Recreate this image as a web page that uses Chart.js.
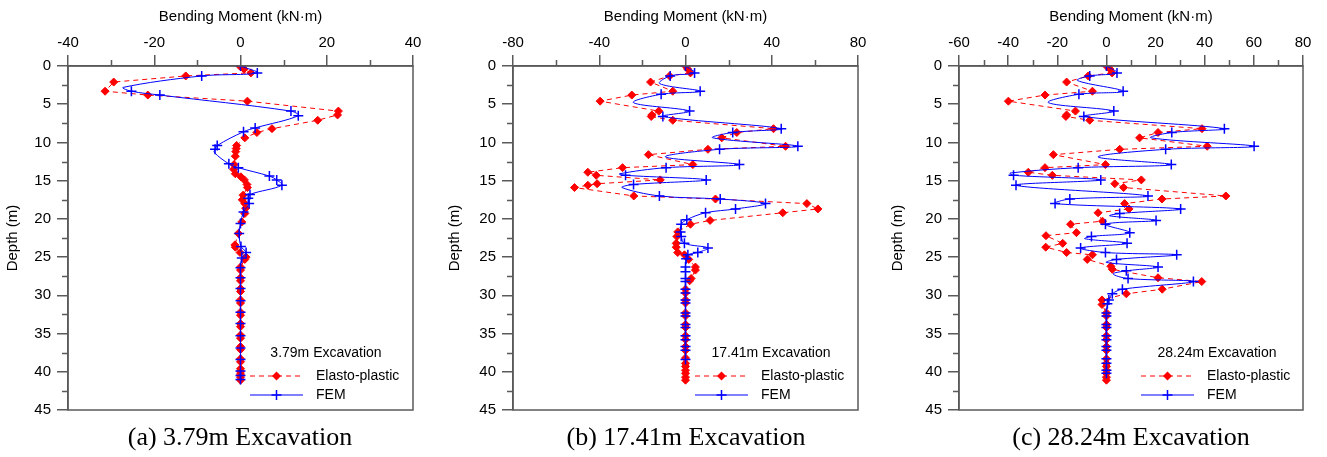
<!DOCTYPE html>
<html>
<head>
<meta charset="utf-8">
<script src="https://cdn.jsdelivr.net/npm/chart.js@4.4.1/dist/chart.umd.min.js"></script>
<style>
  html, body { margin:0; padding:0; background:#fff; }
  #wrap { position:relative; width:1327px; height:457px; background:#fff; overflow:hidden; }
  .pane { position:absolute; top:0; height:457px; }
  .cap { position:absolute; top:422px; width:360px; text-align:center;
         font-family:"Liberation Serif","Times New Roman",serif; font-size:26px; line-height:30px; color:#000; }
</style>
</head>
<body>
<div id="wrap">
  <div class="pane" style="left:0;width:442px"><canvas id="ca" width="442" height="457"></canvas></div>
  <div class="pane" style="left:442px;width:443px"><canvas id="cb" width="443" height="457"></canvas></div>
  <div class="pane" style="left:885px;width:442px"><canvas id="cc" width="442" height="457"></canvas></div>
  <div class="cap" style="left:60px">(a) 3.79m Excavation</div>
  <div class="cap" style="left:506px">(b) 17.41m Excavation</div>
  <div class="cap" style="left:951px">(c) 28.24m Excavation</div>
</div>
<script>
// ---------- data: depth (m) and bending moment (kN·m) ----------
const seriesNames = ['Elasto-plastic', 'FEM'];
const xAxisTitle = 'Bending Moment (kN·m)';
const yAxisTitle = 'Depth (m)';
const depthTicks = [0, 5, 10, 15, 20, 25, 30, 35, 40, 45];

// (a) 3.79 m excavation
const aLabel = '3.79m Excavation';
const aMomentTicks = [-40, -20, 0, 20, 40];
const aEpDepth  = [0.0,0.4,0.9,1.3,2.1,3.3,3.8,4.6,5.9,6.4,7.1,8.2,8.7,9.4,10.4,10.8,11.2,11.8,12.9,13.5,14.1,14.5,14.9,15.5,15.9,16.9,17.5,18.0,18.6,19.3,20.4,21.9,23.4,23.7,24.4,25.0,25.3,26.3,26.7,27.7,28.1,29.1,29.5,30.6,31.0,32.2,32.6,33.7,34.1,35.2,35.6,36.7,37.1,38.3,38.7,39.6,40.0,40.3,40.7,41.1];
const aEpMoment = [-0.2,0.8,2.4,-12.7,-29.4,-31.4,-21.5,1.6,22.7,22.5,17.9,7.3,3.8,1.0,-0.9,-1.0,-1.1,-1.2,-1.5,-1.6,-1.2,0.1,0.9,1.5,1.6,0.6,0.4,1.0,1.2,1.0,0.3,-0.5,-1.3,-1.2,-0.1,1.3,1.0,0,0,0,0,0,0,0,0,0,0,0,0,0,0,0,0,0,0,0,0,0,0,0,0];
const aFemDepth  = [0,0.9,1.3,3.3,3.8,5.9,6.5,8.1,8.6,10.4,10.9,12.8,13.3,14.4,14.9,15.6,16.8,17.3,18.0,19.1,20.6,21.9,23.6,24.4,25.1,26.4,27.7,29.1,30.7,32.2,33.7,35.3,36.9,38.4,39.9,40.5,41.0];
const aFemMoment = [0,3.9,-9.0,-25.3,-18.7,11.7,13.4,3.4,0.7,-5.4,-5.9,-2.7,-0.5,6.7,8.4,9.6,2.2,1.8,2.0,0.7,0.0,-0.3,0.1,1.3,0.3,0,0,0,0,0,0,0,0,0,0,0,0];
const aFemBendDepth  = [2.8, 11.3];
const aFemBendMoment = [-27.2, -6.1];

// (b) 17.41 m excavation
const bLabel = '17.41m Excavation';
const bMomentTicks = [-80, -40, 0, 40, 80];
const bEpDepth  = [0,0.4,0.9,1.3,2.1,3.3,3.8,4.6,5.9,6.4,6.6,7.1,8.2,8.7,9.4,10.5,10.9,11.6,12.9,13.3,13.9,14.3,14.9,15.4,15.6,15.9,17.0,17.4,18.0,18.7,19.2,20.2,20.7,21.7,22.3,23.2,23.7,24.4,24.7,25.3,26.3,26.7,27.8,28.1,29.2,29.7,30.6,31.0,32.3,32.7,33.8,34.2,35.3,35.8,36.7,37.2,38.2,38.9,39.3,39.8,40.2,40.7,41.1];
const bEpMoment = [0,1.0,2.3,-7.4,-16.2,-5.9,-24.9,-39.6,-12.4,-15.6,-15.9,-5.9,40.8,23.8,16.8,46.4,10.4,-17.2,3.4,-29.2,-45.3,-41.4,-11.7,-41.0,-45.3,-51.5,-24.0,13.9,56.3,61.4,45.1,11.4,2.3,-3.6,-4.0,-4.3,-4.3,-3.6,-0.5,1.5,4.6,4.6,2.6,1.9,0,0,0,0,0,0,0,0,0,0,0,0,0,0,0,0,0,0,0];
const bFemDepth  = [0,0.9,1.3,3.3,3.7,5.9,6.6,8.2,8.7,10.5,10.9,12.9,13.3,14.3,14.9,15.5,17.0,17.4,18.0,18.7,19.2,20.1,20.7,21.7,22.3,23.2,23.8,24.4,24.7,25.2,26.3,26.9,27.8,28.2,29.2,29.7,30.6,31.0,32.3,32.7,33.8,34.2,35.3,35.8,36.7,37.2,38.4];
const bFemMoment = [0,4.2,-7.1,6.8,-11.3,1.9,-10.5,44.4,21.9,52.1,15.8,25.0,-9.0,-27.8,9.6,-24.1,-12.1,16.1,37.1,23.2,9.3,0.6,-2.0,-2.3,-2.0,-0.5,10.4,5.7,1.1,0.3,0,0,0,0,0,0,0,0,0,0,0,0,0,0,0,0,0];
const bFemBendDepth  = [2.3,4.8,9.4,11.9,14.1,15.9];
const bFemBendMoment = [-12.0,-24.1,12.7,-9.3,-30.6,-29.4];

// (c) 28.24 m excavation
const cLabel = '28.24m Excavation';
const cMomentTicks = [-60, -40, -20, 0, 20, 40, 60, 80];
const cEpDepth  = [0,0.4,0.9,1.3,2.1,3.3,3.8,4.6,5.9,6.4,6.6,7.1,8.2,8.7,9.4,10.5,10.9,11.6,12.9,13.3,13.9,14.3,14.9,15.4,15.9,17.0,17.4,18.0,18.7,19.2,20.3,20.7,21.8,22.2,23.2,23.7,24.4,24.7,25.3,26.2,26.6,27.7,28.2,29.2,29.8,30.6,31.2,32.3,32.7,33.8,34.2,35.3,35.8,36.7,37.2,38.3,38.9,39.3,39.8,40.2,40.7,41.1];
const cEpMoment = [0,1.4,2.3,-7.4,-16.2,-5.7,-25.0,-39.9,-12.6,-16.2,-16.5,-6.8,38.9,21.0,13.5,41.0,5.4,-21.6,-0.4,-25.0,-31.8,-22.0,14.2,3.4,7.0,48.6,22.6,7.4,9.2,-3.4,-1.6,-14.6,-12.2,-24.6,-17.8,-24.7,-16.2,-5.7,-7.8,1.8,2.4,21.0,38.8,22.7,8.1,-1.8,-1.8,0,0,0,0,0,0,0,0,0,0,0,0,0,0,0];
const cFemDepth  = [0,0.9,1.3,3.3,3.7,5.9,6.6,8.2,8.7,10.5,10.9,12.9,13.3,14.3,14.9,15.6,17.0,17.4,18.0,18.7,19.3,20.2,20.7,21.8,22.3,23.2,23.8,24.4,24.7,25.3,26.3,26.8,27.8,28.2,29.2,29.8,30.6,31.1,32.3,32.7,33.8,34.2,35.3,35.8,36.7,37.2,38.3,38.9,39.8,40.2];
const cFemMoment = [0,4.3,-6.8,6.8,-11.2,3.0,-9.2,48.0,26.6,60.1,24.1,26.4,-11.5,-37.8,-2.3,-36.8,16.9,-14.9,-20.9,30.2,5.4,20.2,-0.4,9.5,-6.1,8.4,-10.5,-0.4,28.6,4.1,21.0,8.1,8.8,35.4,6.5,2.4,1.0,0.4,0,0,0,0,0,0,0,0,0,0,0,0];
const cFemBendDepth  = [1.9,4.8,9.4,11.9,14.0,19.6,22.6,25.7,27.2];
const cFemBendMoment = [-11.8,-23.6,18.2,-3.4,-39.2,1.4,-8.8,0.0,2.7];

// ---------- styling ----------
const FONT = 'Arial, "Liberation Sans", sans-serif';
const AXIS = '#5a5a5a';
const RED = '#ff0000';
const BLUE = '#0000ff';

function zip(depths, moments) {
  return depths.map((d, i) => ({ x: moments[i], y: d }));
}

const minorTicksPlugin = {
  id: 'minorTicks',
  afterDraw(chart) {
    const { ctx, chartArea: a, scales: { x, y } } = chart;
    ctx.save();
    ctx.strokeStyle = AXIS;
    ctx.lineWidth = 1.5;
    ctx.strokeRect(a.left, a.top, a.right - a.left, a.bottom - a.top);
    const xt = x.ticks.map(t => t.value);
    ctx.beginPath();
    for (let i = 0; i < xt.length - 1; i++) {
      const px = Math.round(x.getPixelForValue((xt[i] + xt[i + 1]) / 2)) + 0.5;
      ctx.moveTo(px, a.top); ctx.lineTo(px, a.top - 6);
    }
    const yt = y.ticks.map(t => t.value);
    for (let i = 0; i < yt.length - 1; i++) {
      const py = Math.round(y.getPixelForValue((yt[i] + yt[i + 1]) / 2)) + 0.5;
      ctx.moveTo(a.left, py); ctx.lineTo(a.left - 6, py);
    }
    ctx.stroke();
    ctx.restore();
  }
};

const insideLegendPlugin = {
  id: 'insideLegend',
  afterDraw(chart, args, opts) {
    const { ctx, chartArea: a } = chart;
    ctx.save();
    ctx.fillStyle = '#000';
    ctx.textBaseline = 'middle';
    ctx.font = '14px ' + FONT;
    ctx.textAlign = 'center';
    ctx.fillText(opts.title, a.left + 258, a.top + 287);
    ctx.textAlign = 'left';
    const x0 = a.left + 182, x1 = a.left + 235, xm = (x0 + x1) / 2;
    // Elasto-plastic entry
    let yy = a.top + 310;
    ctx.strokeStyle = RED; ctx.lineWidth = 1; ctx.setLineDash([5, 4]);
    ctx.beginPath(); ctx.moveTo(x0, yy); ctx.lineTo(x1, yy); ctx.stroke();
    ctx.setLineDash([]);
    ctx.fillStyle = RED;
    ctx.beginPath(); ctx.moveTo(xm, yy - 4.5); ctx.lineTo(xm + 4.5, yy); ctx.lineTo(xm, yy + 4.5); ctx.lineTo(xm - 4.5, yy); ctx.closePath(); ctx.fill();
    ctx.fillStyle = '#000';
    ctx.fillText(seriesNames[0], a.left + 248, yy);
    // FEM entry
    yy = a.top + 329;
    ctx.strokeStyle = BLUE; ctx.lineWidth = 1;
    ctx.beginPath(); ctx.moveTo(x0, yy); ctx.lineTo(x1, yy); ctx.stroke();
    ctx.lineWidth = 1.5;
    ctx.beginPath(); ctx.moveTo(xm - 5, yy); ctx.lineTo(xm + 5, yy); ctx.moveTo(xm, yy - 5); ctx.lineTo(xm, yy + 5); ctx.stroke();
    ctx.fillStyle = '#000';
    ctx.fillText(seriesNames[1], a.left + 248, yy);
    ctx.restore();
  }
};

function makePanel(id, p) {
  const femMarkers = zip(p.femDepth, p.femMoment);
  const femCurve = femMarkers.concat(zip(p.bendDepth, p.bendMoment)).sort((u, v) => u.y - v.y);
  const tickFont = { family: FONT, size: 15 };
  new Chart(document.getElementById(id), {
    type: 'scatter',
    data: {
      datasets: [
        { label: seriesNames[1], data: femMarkers, showLine: false, pointStyle: 'cross',
          pointRadius: 5, pointBorderWidth: 1.5, borderColor: BLUE, backgroundColor: BLUE },
        { label: seriesNames[1] + ' curve', data: femCurve, showLine: true, pointRadius: 0,
          borderColor: BLUE, borderWidth: 1, tension: 0.35 },
        { label: seriesNames[0], data: zip(p.epDepth, p.epMoment), showLine: true,
          borderColor: RED, backgroundColor: RED, borderWidth: 1, borderDash: [5, 4],
          pointStyle: 'rectRot', pointRadius: 4, pointBorderWidth: 1, tension: 0 }
      ]
    },
    options: {
      responsive: false,
      animation: false,
      layout: { padding: { left: 0, right: p.rightPad, top: 0, bottom: 47 } },
      plugins: { legend: { display: false }, tooltip: { enabled: false },
                 insideLegend: { title: p.label } },
      scales: {
        x: {
          type: 'linear', position: 'top',
          min: p.ticks[0], max: p.ticks[p.ticks.length - 1],
          afterBuildTicks: s => { s.ticks = p.ticks.map(v => ({ value: v })); },
          ticks: { font: tickFont, color: '#000', padding: 3, maxRotation: 0 },
          grid: { drawOnChartArea: false, drawTicks: true, tickLength: 11, color: AXIS, lineWidth: 1.5 },
          border: { display: true, color: AXIS, width: 1.5 },
          title: { display: true, text: xAxisTitle, color: '#000', font: { family: FONT, size: 15 },
                   padding: { top: 8, bottom: 0 } },
          afterFit: s => { s.height = 66; }
        },
        y: {
          type: 'linear', reverse: true,
          min: depthTicks[0], max: depthTicks[depthTicks.length - 1],
          afterBuildTicks: s => { s.ticks = depthTicks.map(v => ({ value: v })); },
          ticks: { font: tickFont, color: '#000', padding: 6 },
          grid: { drawOnChartArea: false, drawTicks: true, tickLength: 11, color: AXIS, lineWidth: 1.5 },
          border: { display: true, color: AXIS, width: 1.5 },
          title: { display: true, text: yAxisTitle, color: '#000', font: { family: FONT, size: 15 },
                   padding: { top: 4, bottom: 0 } },
          afterFit: s => { s.width = p.yWidth; }
        }
      }
    },
    plugins: [minorTicksPlugin, insideLegendPlugin]
  });
}

makePanel('ca', { label: aLabel, ticks: aMomentTicks, epDepth: aEpDepth, epMoment: aEpMoment,
  femDepth: aFemDepth, femMoment: aFemMoment, bendDepth: aFemBendDepth, bendMoment: aFemBendMoment,
  yWidth: 68, rightPad: 29 });
makePanel('cb', { label: bLabel, ticks: bMomentTicks, epDepth: bEpDepth, epMoment: bEpMoment,
  femDepth: bFemDepth, femMoment: bFemMoment, bendDepth: bFemBendDepth, bendMoment: bFemBendMoment,
  yWidth: 71, rightPad: 27 });
makePanel('cc', { label: cLabel, ticks: cMomentTicks, epDepth: cEpDepth, epMoment: cEpMoment,
  femDepth: cFemDepth, femMoment: cFemMoment, bendDepth: cFemBendDepth, bendMoment: cFemBendMoment,
  yWidth: 74, rightPad: 24 });
</script>
</body>
</html>
